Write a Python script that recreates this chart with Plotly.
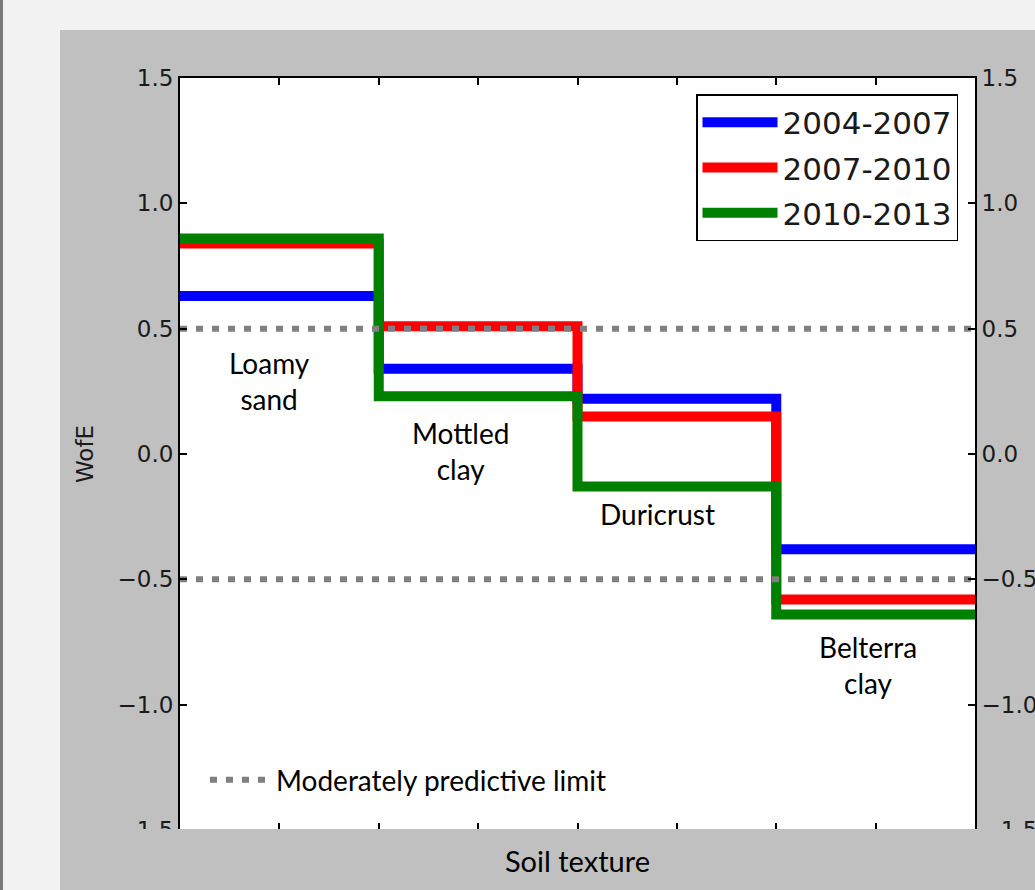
import plotly.graph_objects as go

# step edges along the soil texture axis (one class per unit)
class_edges = [0, 1, 2, 3, 4]
class_names = ['Loamy<br>sand', 'Mottled<br>clay', 'Duricrust', 'Belterra<br>clay']
label_x = [0.45, 1.41, 2.4, 3.46]
label_y = [0.29, 0.01, -0.24, -0.84]

periods = ['2004-2007', '2007-2010', '2010-2013']
wofe_2004 = [0.63, 0.34, 0.22, -0.38]
wofe_2007 = [0.84, 0.51, 0.15, -0.58]
wofe_2010 = [0.86, 0.23, -0.13, -0.64]
colors = ['blue', 'red', 'green']

limit_hi = 0.5
limit_lo = -0.5

W, H = 1035, 890
ML, MR, MT, MB = 180, 60, 78, 60
PW, PH = W - ML - MR, H - MT - MB


def px_x(p):
    # pixel -> paper x
    return (p - ML) / PW


def px_y(p):
    # pixel -> paper y
    return (H - MB - p) / PH


fig = go.Figure()

for name, vals, col in zip(periods, [wofe_2004, wofe_2007, wofe_2010], colors):
    fig.add_trace(go.Scatter(
        x=class_edges, y=vals + [vals[-1]], mode='lines', name=name,
        line=dict(color=col, width=10, shape='hv'), legend='legend', legendgroup=name))

fig.add_trace(go.Scatter(
    x=[class_edges[0], class_edges[-1], None, class_edges[0], class_edges[-1]],
    y=[limit_hi, limit_hi, None, limit_lo, limit_lo],
    mode='lines', name='Moderately predictive limit',
    line=dict(color='#808080', width=6, dash='7px,9px'), legend='legend2'))

# invisible trace to bring up the right-hand axis
fig.add_trace(go.Scatter(x=[None], y=[None], yaxis='y2', showlegend=False))

for txt, x, y in zip(class_names, label_x, label_y):
    fig.add_annotation(x=x, y=y, text=txt, showarrow=False,
                       font=dict(family='Lato', size=28, color='black'))

tick_font = dict(family='DejaVu Sans', size=23, color='#1a1a1a')
axis_common = dict(ticks='inside', ticklen=7, tickwidth=1.5, tickcolor='black',
                   showline=True, linecolor='black', linewidth=2,
                   showgrid=False, zeroline=False, automargin=False)

fig.update_layout(
    width=W, height=H,
    margin=dict(l=ML, r=MR, t=MT, b=MB, autoexpand=False),
    paper_bgcolor='#f2f2f2', plot_bgcolor='white',
    xaxis=dict(range=[0, 4], tickvals=[i * 0.5 for i in range(9)], showticklabels=False,
               mirror='ticks',
               title=dict(text='Soil texture', standoff=21,
                          font=dict(family='Lato', size=29, color='black')),
               **axis_common),
    yaxis=dict(range=[-1.5, 1.5], dtick=0.5, tickformat='.1f', tickfont=tick_font,
               title=dict(text='WofE', standoff=17,
                          font=dict(family='DejaVu Sans', size=23, color='#1a1a1a')),
               **axis_common),
    yaxis2=dict(range=[-1.5, 1.5], dtick=0.5, tickformat='.1f', tickfont=tick_font,
                overlaying='y', side='right', anchor='x', **axis_common),
    legend=dict(x=px_x(958), y=px_y(94), xanchor='right', yanchor='top',
                bgcolor='white', bordercolor='black', borderwidth=1.5,
                font=dict(family='DejaVu Sans', size=31, color='#1a1a1a'),
                itemwidth=75, tracegroupgap=2),
    legend2=dict(x=px_x(205), y=px_y(780), xanchor='left', yanchor='middle',
                 bgcolor='rgba(0,0,0,0)', borderwidth=0, itemwidth=61,
                 font=dict(family='Lato', size=28, color='black')),
    shapes=[
        # grey panel behind the figure
        dict(type='rect', xref='paper', yref='paper', layer='below',
             x0=px_x(60), x1=px_x(1100), y0=px_y(950), y1=px_y(30),
             fillcolor='#c0c0c0', line=dict(width=0)),
        # dark strip on the left edge
        dict(type='rect', xref='paper', yref='paper', layer='below',
             x0=px_x(0), x1=px_x(3), y0=px_y(950), y1=px_y(-10),
             fillcolor='#7a7a7a', line=dict(width=0)),
        # white plotting area
        dict(type='rect', xref='x domain', yref='y domain', layer='below',
             x0=0, x1=1, y0=0, y1=1, fillcolor='white', line=dict(width=0)),
        # cropped bottom edge
        dict(type='rect', xref='paper', yref='paper', layer='above',
             x0=px_x(60), x1=px_x(1100), y0=px_y(950), y1=px_y(829),
             fillcolor='#c0c0c0', line=dict(width=0)),
    ],
)

fig.write_html("out.html", config={'displayModeBar': False},
               post_script="document.body.style.margin='0';")
